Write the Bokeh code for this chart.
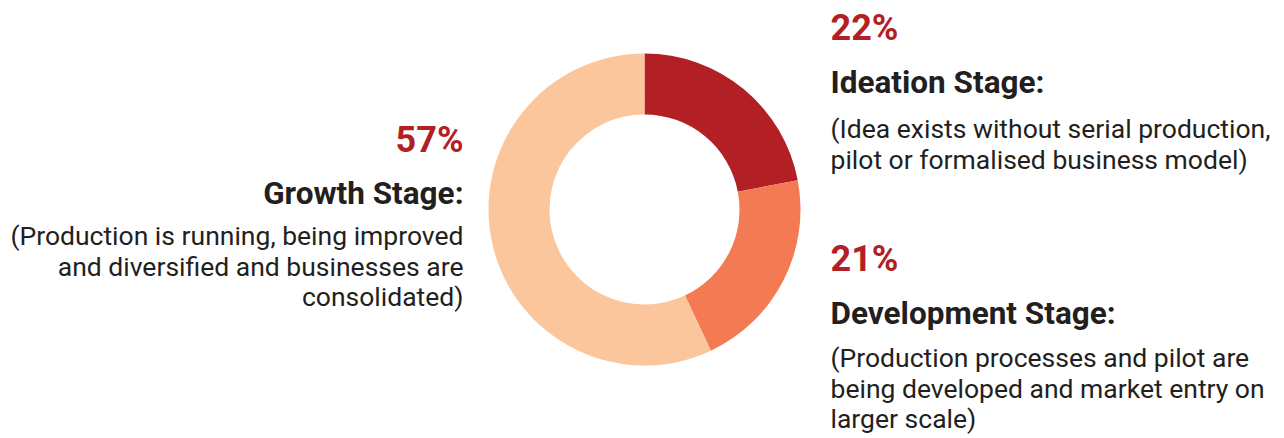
import math
from bokeh.plotting import figure
from bokeh.models import Range1d, ColumnDataSource
from bokeh.core.properties import value
from bokeh.embed import file_html
from bokeh.resources import INLINE

# ---- data ----
stages = ["Ideation Stage:", "Development Stage:", "Growth Stage:"]
shares = [22, 21, 57]
colors = ["#B21F24", "#F37A53", "#FCC69C"]
descriptions = [
    ["(Idea exists without serial production,", "pilot or formalised business model)"],
    ["(Production processes and pilot are", "being developed and market entry on", "larger scale)"],
    ["(Production is running, being improved", "and diversified and businesses are", "consolidated)"],
]

W, H = 1284, 438
p = figure(width=W, height=H, output_backend="svg", toolbar_location=None,
           x_range=Range1d(0, W), y_range=Range1d(0, H), min_border=0)
p.axis.visible = False
p.grid.visible = False
p.outline_line_color = None
p.background_fill_color = "white"
p.border_fill_color = "white"

# ---- donut ----
total = sum(shares)
starts, ends = [], []
acc = 0.0
for s in shares:
    starts.append(math.pi / 2 - 2 * math.pi * acc / total)
    acc += s
    ends.append(math.pi / 2 - 2 * math.pi * acc / total)

cx, cy = 644, H - 209
src = ColumnDataSource(dict(start=starts, end=ends, color=colors))
p.annular_wedge(x=cx, y=cy, inner_radius=95, outer_radius=156,
                inner_radius_units="screen", outer_radius_units="screen",
                start_angle="start", end_angle="end", direction="clock",
                fill_color="color", line_color=None, source=src)

# ---- labels ----
RED = "#B21F24"
DARK = "#231F20"
FONT = value("Roboto")

# (x, align, pct y, title y, first body y)  -- pixel positions from top
layout = [
    (830, "left", 27, 82, 128),
    (830, "left", 258, 313, 357),
    (463, "right", 139, 193, 235),
]
LINE = 30.5

for i, (x, align, yp, yt, yb) in enumerate(layout):
    p.text(x=[x], y=[H - yp], text=[f"{shares[i]}%"], text_font=FONT,
           text_font_size="36px", text_font_style="bold", text_color=RED,
           text_align=align, text_baseline="alphabetic")
    p.text(x=[x], y=[H - yt], text=[stages[i]], text_font=FONT,
           text_font_size="31.5px", text_font_style="bold", text_color=DARK,
           text_align=align, text_baseline="alphabetic")
    lines = descriptions[i]
    p.text(x=[x] * len(lines), y=[H - (yb + LINE * k) for k in range(len(lines))],
           text=lines, text_font=FONT, text_font_size="26.5px", text_color=DARK,
           text_align=align, text_baseline="alphabetic")

open("out.html", "w").write(file_html(p, INLINE))
